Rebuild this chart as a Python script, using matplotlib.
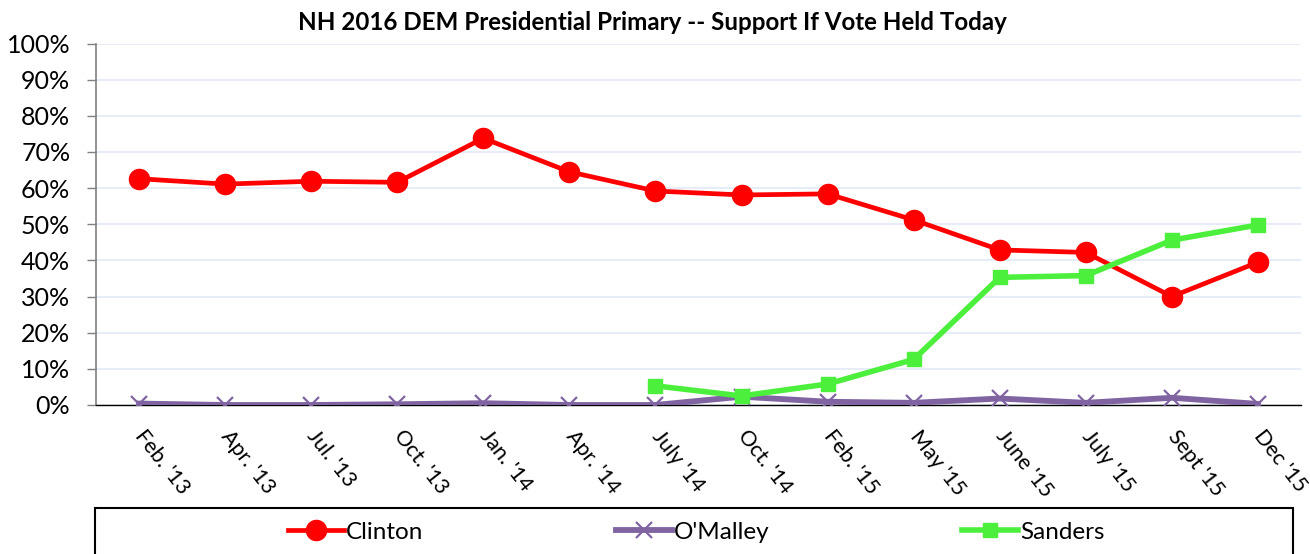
import matplotlib
matplotlib.use("Agg")
import matplotlib.pyplot as plt
from matplotlib.patches import Rectangle
from matplotlib.lines import Line2D
from matplotlib.ticker import PercentFormatter
import numpy as np

plt.rcParams['font.family'] = ['Lato', 'DejaVu Sans']

categories = ["Feb. '13", "Apr. '13", "Jul. '13", "Oct. '13", "Jan. '14", "Apr. '14",
              "July '14", "Oct. '14", "Feb. '15", "May '15", "June '15", "July '15",
              "Sept '15", "Dec '15"]
clinton = [62.6, 61.1, 61.9, 61.6, 73.8, 64.5, 59.2, 58.1, 58.4, 51.2, 42.9, 42.2, 30.0, 39.5]
omalley = [0.4, 0.0, 0.0, 0.2, 0.5, 0.0, 0.0, 2.3, 0.9, 0.6, 1.8, 0.6, 2.0, 0.3]
sanders = [None, None, None, None, None, None, 5.3, 2.5, 5.8, 12.6, 35.3, 35.8, 45.6, 49.8]
series_names = ["Clinton", "O'Malley", "Sanders"]
title = "NH 2016 DEM Presidential Primary -- Support If Vote Held Today"

W, H = 1310, 554
fig = plt.figure(figsize=(W / 100, H / 100), dpi=100)
ax = fig.add_axes([96 / W, 1 - 405 / H, (1301 - 96) / W, (405 - 43.5) / H])

x = np.arange(len(categories))
s_vals = np.array([np.nan if v is None else v for v in sanders], dtype=float)

red = "#FF0000"
purple = "#8064A2"
green = "#4CEF3C"

ax.plot(x, clinton, color=red, lw=3.4, marker='o', ms=14.5, mec=red, mfc=red, zorder=3)
ax.plot(x, omalley, color=purple, lw=4.2, marker='x', ms=12, mew=1.6, mec=purple, zorder=3)
ax.plot(x, s_vals, color=green, lw=4.0, marker='s', ms=10.5, mec=green, mfc=green, zorder=4)

ax.set_xlim(-0.5, len(categories) - 0.5)
ax.set_ylim(0, 100)
ax.set_yticks(np.arange(0, 101, 10))
ax.yaxis.set_major_formatter(PercentFormatter(decimals=0))
ax.set_xticks(x)
ax.set_xticklabels(categories, rotation=-52, ha='left', va='center',
                   rotation_mode='anchor', fontsize=15.5)
ax.tick_params(axis='x', length=0, pad=20)
ax.tick_params(axis='y', length=6.5, width=1, color='#808080', labelsize=18, pad=12)
ax.grid(axis='y', color='#E3EAF5', lw=1.2, zorder=0)
ax.set_axisbelow(True)
for s in ['top', 'right']:
    ax.spines[s].set_visible(False)
ax.spines['left'].set_color('#808080')
ax.spines['left'].set_linewidth(1.2)
ax.spines['bottom'].set_color('black')
ax.spines['bottom'].set_linewidth(1.0)
ax.spines['bottom'].set_zorder(2.5)

fig.text(652 / W, 1 - 22 / H, title, ha='center', va='center', fontsize=17.4, fontweight='bold')

# legend box
fig.patches.append(Rectangle((95 / W, -0.05), (1293 - 95) / W, 0.05 + (1 - 508 / H),
                             transform=fig.transFigure, fill=False, ec='black', lw=1.5))
handles = [
    Line2D([], [], color=red, lw=3.4, marker='o', ms=14.5, mec=red, mfc=red),
    Line2D([], [], color=purple, lw=4.2, marker='x', ms=12, mew=1.6, mec=purple),
    Line2D([], [], color=green, lw=4.0, marker='s', ms=10.5, mec=green, mfc=green),
]
starts = [288, 616, 962]
for h, name, sx in zip(handles, series_names, starts):
    fig.legend([h], [name], loc='center left', bbox_to_anchor=(sx / W, 1 - 532 / H),
               frameon=False, fontsize=17.5, handlelength=2.3, handletextpad=0.1,
               borderpad=0, borderaxespad=0)

fig.savefig("out.png", dpi=100)
